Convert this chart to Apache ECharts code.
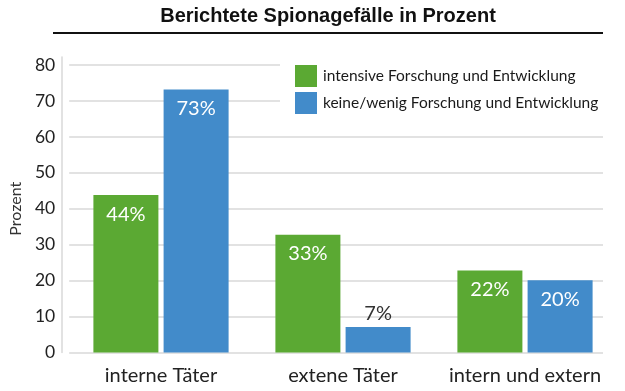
<!DOCTYPE html>
<html><head><meta charset="utf-8">
<script src="https://cdn.jsdelivr.net/npm/echarts@6/dist/echarts.min.js"></script>
<style>html,body{margin:0;padding:0;background:#fff}#c{width:625px;height:391px}</style>
</head><body><div id="c"></div>
<script>
const titleText = 'Berichtete Spionagefälle in Prozent';
const categories = ['interne Täter', 'extene Täter', 'intern und extern'];
const seriesNames = ['intensive Forschung und Entwicklung', 'keine/wenig Forschung und Entwicklung'];
const intensiveValues = [43.8, 32.8, 22.8];
const keineValues = [73.2, 7.1, 20.1];
const intensiveLabels = ['44%', '33%', '22%'];
const keineLabels = ['73%', '7%', '20%'];
const yTicks = [0, 10, 20, 30, 40, 50, 60, 70, 80];

const GREEN = '#5BA933', BLUE = '#428BCA';
const FONT = 'Lato, "Open Sans", sans-serif';
const chart = echarts.init(document.getElementById('c'), null, {renderer: 'canvas'});

function mkData(vals, labels) {
  return vals.map((v, i) => {
    const inside = v > 12;
    return {
      value: v,
      label: {
        show: true,
        formatter: labels[i],
        position: inside ? 'insideTop' : 'top',
        distance: inside ? 9 : 3,
        color: inside ? '#fff' : '#333',
        fontSize: 20,
        fontFamily: FONT
      }
    };
  });
}

chart.setOption({
  animation: false,
  graphic: [
    {type: 'text', x: 328, y: 16,
      style: {text: titleText, fill: '#111', font: 'bold 20px "Liberation Sans", Arial, sans-serif',
        textAlign: 'center', textVerticalAlign: 'middle'}},
    {type: 'rect', shape: {x: 53, y: 32, width: 550, height: 2}, style: {fill: '#111'}}
  ],
  legend: {
    data: seriesNames,
    orient: 'vertical',
    left: 280, top: 55,
    padding: [10, 10, 10, 15],
    backgroundColor: '#fff',
    itemWidth: 22, itemHeight: 22, itemGap: 5,
    icon: 'rect',
    textStyle: {fontSize: 15.5, color: '#1a1a1a', fontFamily: FONT, padding: [0, 0, 0, 1]},
    z: 10
  },
  grid: [
    {left: 62, right: 22, top: 65, bottom: 38.5},
    {left: 70, right: 9, top: 65, bottom: 38.5},
    {left: 62, right: 22, top: 57, bottom: 38.5}
  ],
  xAxis: [
    {gridIndex: 0, type: 'category', data: categories, show: false},
    {gridIndex: 1, type: 'category', data: categories,
      axisLine: {show: false}, axisTick: {show: false},
      axisLabel: {interval: 0, fontSize: 20, color: '#222', fontFamily: FONT, margin: 13}},
    {gridIndex: 2, type: 'category', data: categories, show: false}
  ],
  yAxis: [
    {gridIndex: 0, type: 'value', min: yTicks[0], max: yTicks[yTicks.length - 1], interval: 10,
      name: 'Prozent', nameLocation: 'middle', nameGap: 40, nameRotate: 90,
      nameTextStyle: {fontSize: 16, color: '#333', fontFamily: FONT},
      axisLine: {show: false}, axisTick: {show: false},
      axisLabel: {fontSize: 17.5, color: '#222', fontFamily: FONT, margin: 14},
      splitLine: {lineStyle: {color: '#d8d8d8', width: 1.5}}},
    {gridIndex: 1, type: 'value', min: 0, max: 80, interval: 10, show: false, splitLine: {show: false}},
    {gridIndex: 2, type: 'value', min: 0, max: 82, show: true,
      axisLine: {show: true, lineStyle: {color: '#d8d8d8', width: 1.5}},
      axisTick: {show: false}, axisLabel: {show: false}, splitLine: {show: false}}
  ],
  series: [
    {name: seriesNames[0], type: 'bar', xAxisIndex: 1, yAxisIndex: 1, barWidth: 65, barGap: '8%',
      itemStyle: {color: GREEN}, data: mkData(intensiveValues, intensiveLabels)},
    {name: seriesNames[1], type: 'bar', xAxisIndex: 1, yAxisIndex: 1, barWidth: 65, barGap: '8%',
      itemStyle: {color: BLUE}, data: mkData(keineValues, keineLabels)}
  ]
});
</script></body></html>
